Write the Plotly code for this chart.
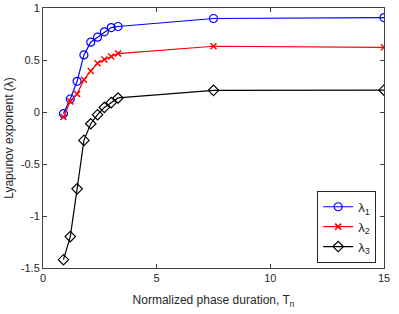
import plotly.graph_objects as go

T = [0.9, 1.2, 1.5, 1.8, 2.1, 2.4, 2.7, 3.0, 3.3, 7.5, 15]
lam1 = [-0.016, 0.125, 0.295, 0.549, 0.671, 0.719, 0.771, 0.812, 0.822, 0.899, 0.908]
lam2 = [-0.048, 0.102, 0.173, 0.311, 0.395, 0.468, 0.504, 0.533, 0.562, 0.632, 0.622]
lam3 = [-1.42, -1.198, -0.739, -0.273, -0.113, -0.026, 0.044, 0.09, 0.135, 0.208, 0.21]

fig = go.Figure()
fig.add_trace(go.Scatter(x=T, y=lam1, mode="lines+markers", name="λ<sub>1</sub>",
                         line=dict(color="#0000ff", width=1.2),
                         marker=dict(symbol="circle-open", size=8, color="#0000ff", line=dict(width=1.2))))
fig.add_trace(go.Scatter(x=T, y=lam2, mode="lines+markers", name="λ<sub>2</sub>",
                         line=dict(color="#ff0000", width=1.2),
                         marker=dict(symbol="x-thin-open", size=6, color="#ff0000", line=dict(width=1.5))))
fig.add_trace(go.Scatter(x=T, y=lam3, mode="lines+markers", name="λ<sub>3</sub>",
                         line=dict(color="#000000", width=1.2),
                         marker=dict(symbol="diamond-open", size=8, color="#000000", line=dict(width=1.2))))

axis_common = dict(showline=True, linecolor="#404040", linewidth=1, mirror="ticks",
                   ticks="inside", ticklen=4, tickcolor="#404040", showgrid=False, zeroline=False,
                   automargin=False,
                   tickfont=dict(family="Liberation Sans, Arial", size=11, color="#262626"))
fig.update_xaxes(range=[0, 15], tickvals=[0, 5, 10, 15], ticktext=["0", "5", "10", "15"],
                 title=dict(text="Normalized phase duration, T<sub>n</sub>", standoff=12,
                            font=dict(family="Liberation Sans, Arial", size=12, color="#262626")),
                 **axis_common)
fig.update_yaxes(range=[-1.5, 1], tickvals=[-1.5, -1, -0.5, 0, 0.5, 1],
                 ticktext=["-1.5", "-1", "-0.5", "0", "0.5", "1"],
                 title=dict(text="Lyapunov exponent (λ)", standoff=4,
                            font=dict(family="Liberation Sans, Arial", size=12, color="#262626")),
                 **axis_common)
fig.update_layout(width=399, height=314, margin=dict(l=43, r=15, t=8, b=46),
                  plot_bgcolor="white", paper_bgcolor="white",
                  font=dict(family="Liberation Sans, Arial", size=11, color="#262626"),
                  legend=dict(x=0.977, y=0.02, xanchor="right", yanchor="bottom",
                              bgcolor="white", bordercolor="#262626", borderwidth=1,
                              font=dict(size=13), itemwidth=30, tracegroupgap=0))
fig.write_html("out.html", config={"displayModeBar": False},
               post_script="document.body.style.margin='0';document.body.style.overflow='hidden';")
